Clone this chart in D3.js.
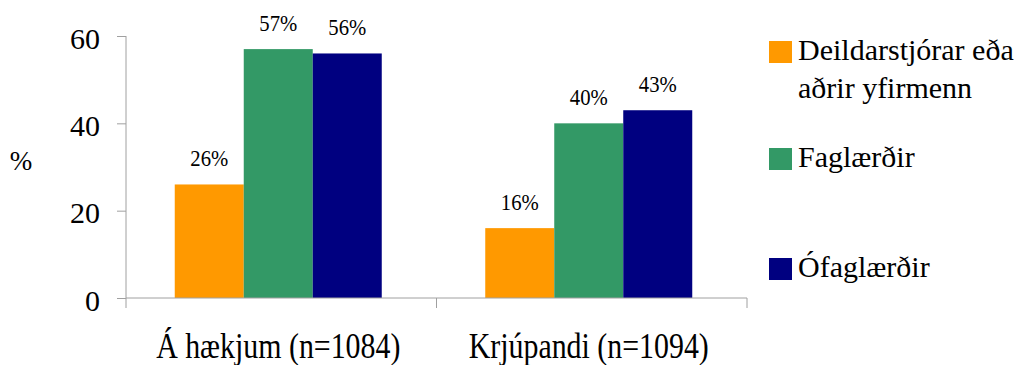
<!DOCTYPE html>
<html>
<head>
<meta charset="utf-8">
<script src="https://cdn.jsdelivr.net/npm/d3@7"></script>
<style>
  html, body { margin: 0; padding: 0; background: #fff; }
  svg { display: block; }
</style>
</head>
<body>
<svg id="chart" width="1020" height="365"></svg>
<script>
// Categories (x groups) and the three staff groups (series)
const categories = ["Á hækjum (n=1084)", "Krjúpandi (n=1094)"];
const seriesNames = ["Deildarstjórar eða aðrir yfirmenn", "Faglærðir", "Ófaglærðir"];
const seriesColors = ["#FF9900", "#339966", "#000080"];
// Percent per category, one array per series
const deildarstjorar = [26, 16];
const faglaerdir = [57, 40];
const ofaglaerdir = [56, 43];
const yTicks = [0, 20, 40, 60];

const seriesValues = [deildarstjorar, faglaerdir, ofaglaerdir];
const FONT = "Liberation Serif, Times New Roman, serif";

const svg = d3.select("#chart");
const margin = { left: 126, right: 273, top: 36, bottom: 67 };
const W = 1020, H = 365;
const plotW = W - margin.left - margin.right;
const plotH = H - margin.top - margin.bottom;

const g = svg.append("g").attr("transform", `translate(${margin.left},${margin.top})`);

const y = d3.scaleLinear().domain([0, 60]).range([plotH, 0]);
const x0 = d3.scaleBand().domain(categories).range([0, plotW]).paddingInner(0).paddingOuter(0);
const x1 = d3.scaleBand().domain(d3.range(seriesNames.length)).range([0, x0.bandwidth()]).paddingInner(0).paddingOuter(0.75);

const axisColor = "#a0a0a0";

// Bars with value labels (labels are narrow, so they are squeezed horizontally)
const groups = g.selectAll("g.grp").data(categories).join("g")
  .attr("class", "grp")
  .attr("transform", d => `translate(${x0(d) - 3},0)`);

groups.each(function(cat, ci) {
  const gg = d3.select(this);
  seriesValues.forEach((vals, si) => {
    gg.append("rect")
      .attr("x", x1(si))
      .attr("width", x1.bandwidth())
      .attr("y", y(vals[ci]))
      .attr("height", plotH - y(vals[ci]))
      .attr("fill", seriesColors[si]);
    gg.append("text")
      .attr("transform", `translate(${x1(si) + x1.bandwidth() / 2},${y(vals[ci]) - 18}) scale(0.9,1)`)
      .attr("text-anchor", "middle")
      .attr("font-family", FONT)
      .attr("font-size", 23)
      .attr("fill", "#000")
      .text(vals[ci] + "%");
  });
});

// Y axis
const yAxis = g.append("g").call(d3.axisLeft(y).tickValues(yTicks).tickSize(9).tickPadding(17));
yAxis.attr("font-family", FONT);
yAxis.select(".domain").attr("stroke", axisColor).attr("d", `M0,${y(60)}V${plotH}`);
yAxis.selectAll(".tick line").attr("stroke", axisColor);
yAxis.selectAll(".tick text").attr("font-size", 30).attr("dy", "0.41em").attr("fill", "#000");

// X axis with boundary ticks between categories
const xAxis = g.append("g").attr("transform", `translate(0,${plotH})`);
xAxis.append("line").attr("x1", 0).attr("x2", plotW).attr("stroke", axisColor);
const bounds = [0, x0.bandwidth(), plotW];
xAxis.selectAll("line.bt").data(bounds).join("line")
  .attr("class", "bt")
  .attr("x1", d => d).attr("x2", d => d)
  .attr("y1", 0).attr("y2", 10)
  .attr("stroke", axisColor);
xAxis.selectAll("text.cat").data(categories).join("text")
  .attr("class", "cat")
  .attr("transform", d => `translate(${x0(d) + x0.bandwidth() / 2 - 3},60) scale(0.83,1)`)
  .attr("text-anchor", "middle")
  .attr("font-family", FONT)
  .attr("font-size", 36)
  .attr("fill", "#000")
  .text(d => d);

// Y axis title
svg.append("text")
  .attr("x", 21).attr("y", 170)
  .attr("text-anchor", "middle")
  .attr("font-family", FONT)
  .attr("font-size", 27)
  .attr("fill", "#000")
  .text("%");

// Legend
const legendItems = [
  { lines: ["Deildarstjórar eða", "aðrir yfirmenn"], y: 41 },
  { lines: ["Faglærðir"], y: 148 },
  { lines: ["Ófaglærðir"], y: 258 }
];
const legend = svg.append("g");
legendItems.forEach((it, i) => {
  legend.append("rect")
    .attr("x", 769).attr("y", it.y)
    .attr("width", 23).attr("height", 22)
    .attr("fill", seriesColors[i]);
  const t = legend.append("text")
    .attr("x", 798).attr("y", it.y + 18.5)
    .attr("font-family", FONT)
    .attr("font-size", 30)
    .attr("fill", "#000");
  it.lines.forEach((ln, li) => {
    t.append("tspan").attr("x", 798).attr("dy", li === 0 ? 0 : 38).text(ln);
  });
});
</script>
</body>
</html>
